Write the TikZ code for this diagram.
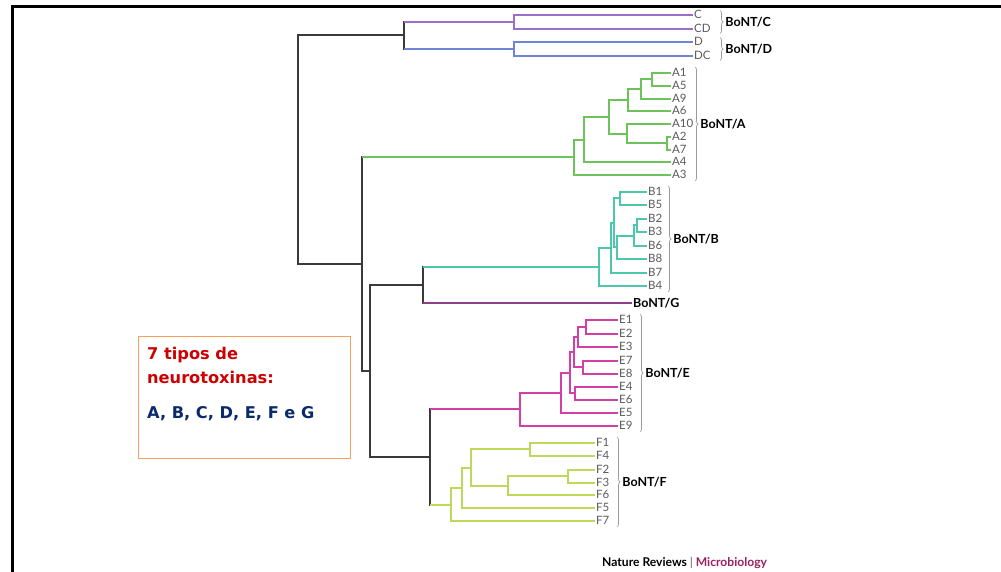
\documentclass[tikz,border=0pt]{standalone}
\usepackage{fontspec}
\setmainfont{Lato}
\newfontfamily\boxfont{DejaVu Sans}
\usepackage{tikz}
\usetikzlibrary{
  decorations.pathreplacing,
  positioning
}
\tikzset{>=stealth}
\definecolor{trunkgrey}{HTML}{3A3A3A}
\definecolor{leafgrey}{HTML}{5A5A5A}
\definecolor{bracegrey}{HTML}{9A9A9A}
\definecolor{colC}{HTML}{9B6FC5}
\definecolor{colD}{HTML}{6F86D6}
\definecolor{colA}{HTML}{6CC35B}
\definecolor{colB}{HTML}{4CC7AE}
\definecolor{colG}{HTML}{8E3F8A}
\definecolor{colE}{HTML}{D43FA6}
\definecolor{colF}{HTML}{BCD95C}
\definecolor{boxorange}{HTML}{F4A062}
\definecolor{boxred}{HTML}{CC0000}
\definecolor{boxnavy}{HTML}{0A2A6B}
\definecolor{microcol}{HTML}{9A1F5E}

\begin{document}
\begin{tikzpicture}[x=1pt,y=-1pt,
  trunk/.style={draw=trunkgrey,line width=1.7pt,line cap=rect},
  lnC/.style={draw=colC,line width=1.7pt},
  lnD/.style={draw=colD,line width=1.7pt},
  lnA/.style={draw=colA,line width=1.7pt},
  lnB/.style={draw=colB,line width=1.7pt},
  lnG/.style={draw=colG,line width=1.7pt},
  lnE/.style={draw=colE,line width=1.7pt},
  lnF/.style={draw=colF,line width=1.7pt},
  leaf/.style={anchor=west,inner sep=1pt,text height=7.8pt,text depth=0pt,
    text=leafgrey,font=\fontsize{11.5}{12}\selectfont},
  brc/.style={draw=bracegrey,line width=0.7pt,decorate,
    decoration={brace,amplitude=3pt}},
  grplab/.style={midway,right=5pt,inner sep=0pt,text height=8.4pt,text depth=0pt,
    font=\fontsize{12.5}{13}\selectfont\bfseries},
  frame/.style={draw=black,line width=3pt},
  txtbox/.style={draw=boxorange,line width=1pt,inner sep=0pt},
  boxtxt/.style={anchor=base west,inner sep=0pt,font=\fontsize{16.2}{18}\boxfont\bfseries}]
\useasboundingbox (0,0) rectangle (1001,572);
\draw[frame] (12.5,572) -- (12.5,6.5) -- (1001,6.5);

% leaves
\foreach \n/\y in {C/15,CD/29,D/42,DC/56}
  \node[leaf] (\n) at (693,\y) {\n};
\foreach \n/\y in {A1/73,A5/86,A9/99,A6/111,A10/124,A2/137,A7/150,A4/162,A3/175}
  \node[leaf] (\n) at (671,\y) {\n};
\foreach \n/\y in {B1/192,B5/205,B2/219,B3/232,B6/246,B8/259,B7/273,B4/286}
  \node[leaf] (\n) at (647,\y) {\n};
\foreach \n/\y in {E1/320,E2/334,E3/347,E7/361,E8/374,E4/387,E6/400,E5/413,E9/426}
  \node[leaf] (\n) at (618,\y) {\n};
\foreach \n/\y in {F1/443,F4/456,F2/470,F3/483,F6/495,F5/508,F7/521}
  \node[leaf] (\n) at (595,\y) {\n};
\node[leaf,text=black,text height=8.4pt,font=\fontsize{12.5}{13}\selectfont\bfseries] (G) at (632,303) {BoNT/G};

% backbone
\coordinate (root) at (298,150);
\coordinate (cd) at (404,35);
\coordinate (xn) at (362,264);
\coordinate (yn) at (370,371);
\coordinate (bg) at (423,285);
\coordinate (ef) at (430,457);
\draw[trunk] (root) |- (cd);
\draw[trunk] (root) |- (xn);
\draw[trunk] (xn) |- (yn);
\draw[trunk] (yn) |- (bg);
\draw[trunk] (yn) |- (ef);

% C and D
\coordinate (cc) at (514,22);
\coordinate (dd) at (514,49);
\draw[trunk] (cd) -- (cd |- cc);
\draw[trunk] (cd) -- (cd |- dd);
\draw[lnC] (cd |- cc) -- (cc);
\draw[lnD] (cd |- dd) -- (dd);
\draw[lnC] (cc) |- (C.west);
\draw[lnC] (cc) |- (CD.west);
\draw[lnD] (dd) |- (D.west);
\draw[lnD] (dd) |- (DC.west);

% A
\coordinate (a0) at (574,157);
\coordinate (a1) at (584,140);
\coordinate (a2) at (609,117);
\coordinate (a3) at (628,100);
\coordinate (a4) at (627,134);
\coordinate (a5) at (641,89);
\coordinate (a6) at (652,79);
\coordinate (a7) at (667,143);
\draw[trunk] (xn) -- (xn |- a0);
\draw[lnA] (xn |- a0) -- (a0);
\draw[lnA] (a0) |- (a1);
\draw[lnA] (a0) |- (A3.west);
\draw[lnA] (a1) |- (a2);
\draw[lnA] (a1) |- (A4.west);
\draw[lnA] (a2) |- (a3);
\draw[lnA] (a2) |- (a4);
\draw[lnA] (a3) |- (a5);
\draw[lnA] (a3) |- (A6.west);
\draw[lnA] (a5) |- (a6);
\draw[lnA] (a5) |- (A9.west);
\draw[lnA] (a6) |- (A1.west);
\draw[lnA] (a6) |- (A5.west);
\draw[lnA] (a4) |- (A10.west);
\draw[lnA] (a4) |- (a7);
\draw[lnA] (a7) |- (A2.west);
\draw[lnA] (a7) |- (A7.west);

% B and G
\coordinate (b0) at (599,267);
\coordinate (b1) at (611,248);
\coordinate (b2) at (614,223);
\coordinate (b3) at (620,198);
\coordinate (b4) at (617,247);
\coordinate (b5) at (634,236);
\coordinate (b6) at (637,225);
\draw[trunk] (bg) -- (bg |- b0);
\draw[trunk] (bg) -- (bg |- G.west);
\draw[lnB] (bg |- b0) -- (b0);
\draw[lnG] (bg |- G.west) -- (G.west);
\draw[lnB] (b0) |- (b1);
\draw[lnB] (b0) |- (B4.west);
\draw[lnB] (b1) |- (b2);
\draw[lnB] (b1) |- (B7.west);
\draw[lnB] (b2) |- (b3);
\draw[lnB] (b2) |- (b4);
\draw[lnB] (b3) |- (B1.west);
\draw[lnB] (b3) |- (B5.west);
\draw[lnB] (b4) |- (b5);
\draw[lnB] (b4) |- (B8.west);
\draw[lnB] (b5) |- (b6);
\draw[lnB] (b5) |- (B6.west);
\draw[lnB] (b6) |- (B2.west);
\draw[lnB] (b6) |- (B3.west);

% E
\coordinate (e0) at (520,409);
\coordinate (e1) at (561,393);
\coordinate (e2) at (570,373);
\coordinate (e3) at (574,352);
\coordinate (e4) at (578,337);
\coordinate (e5) at (586,327);
\coordinate (e6) at (583,367);
\coordinate (e7) at (575,393);
\draw[trunk] (ef) -- (ef |- e0);
\draw[lnE] (ef |- e0) -- (e0);
\draw[lnE] (e0) |- (e1);
\draw[lnE] (e0) |- (E9.west);
\draw[lnE] (e1) |- (e2);
\draw[lnE] (e1) |- (E5.west);
\draw[lnE] (e2) |- (e3);
\draw[lnE] (e2) |- (e7);
\draw[lnE] (e3) |- (e4);
\draw[lnE] (e3) |- (e6);
\draw[lnE] (e4) |- (e5);
\draw[lnE] (e4) |- (E3.west);
\draw[lnE] (e5) |- (E1.west);
\draw[lnE] (e5) |- (E2.west);
\draw[lnE] (e6) |- (E7.west);
\draw[lnE] (e6) |- (E8.west);
\draw[lnE] (e7) |- (E4.west);
\draw[lnE] (e7) |- (E6.west);

% F
\coordinate (f0) at (451,505);
\coordinate (f1) at (462,488);
\coordinate (f2) at (471,468);
\coordinate (f3) at (530,449);
\coordinate (f4) at (508,486);
\coordinate (f5) at (568,476);
\draw[trunk] (ef) -- (ef |- f0);
\draw[lnF] (ef |- f0) -- (f0);
\draw[lnF] (f0) |- (f1);
\draw[lnF] (f0) |- (F7.west);
\draw[lnF] (f1) |- (f2);
\draw[lnF] (f1) |- (F5.west);
\draw[lnF] (f2) |- (f3);
\draw[lnF] (f2) |- (f4);
\draw[lnF] (f3) |- (F1.west);
\draw[lnF] (f3) |- (F4.west);
\draw[lnF] (f4) |- (f5);
\draw[lnF] (f4) |- (F6.west);
\draw[lnF] (f5) |- (F2.west);
\draw[lnF] (f5) |- (F3.west);

% braces
\draw[brc] (720,10.5) -- (720,33.5) node[grplab] (bontC) {BoNT/C};
\draw[brc] (720,37.5) -- (720,60.5) node[grplab] (bontD) {BoNT/D};
\draw[brc] (695,67) -- (695,181) node[grplab] (bontA) {BoNT/A};
\draw[brc] (668,186) -- (668,292) node[grplab] (bontB) {BoNT/B};
\draw[brc] (640,314) -- (640,432) node[grplab] (bontE) {BoNT/E};
\draw[brc] (617,437) -- (617,527) node[grplab] (bontF) {BoNT/F};

% text box
\node[txtbox,minimum width=212pt,minimum height=122pt,anchor=north west] (tipbox) at (138,336) {};
\node[boxtxt,text=boxred] (tip1) at (147,359) {7 tipos de};
\node[boxtxt,text=boxred] (tip2) at (147,383) {neurotoxinas:};
\node[boxtxt,text=boxnavy] (tip3) at (147,418) {A, B, C, D, E, F e G};

% credit
\node[anchor=base west,inner sep=0pt,font=\fontsize{12.1}{13}\selectfont\bfseries] (credit) at (602,566)
  {Nature Reviews {\color{leafgrey}\mdseries|} {\color{microcol}Microbiology}};
\end{tikzpicture}
\end{document}
